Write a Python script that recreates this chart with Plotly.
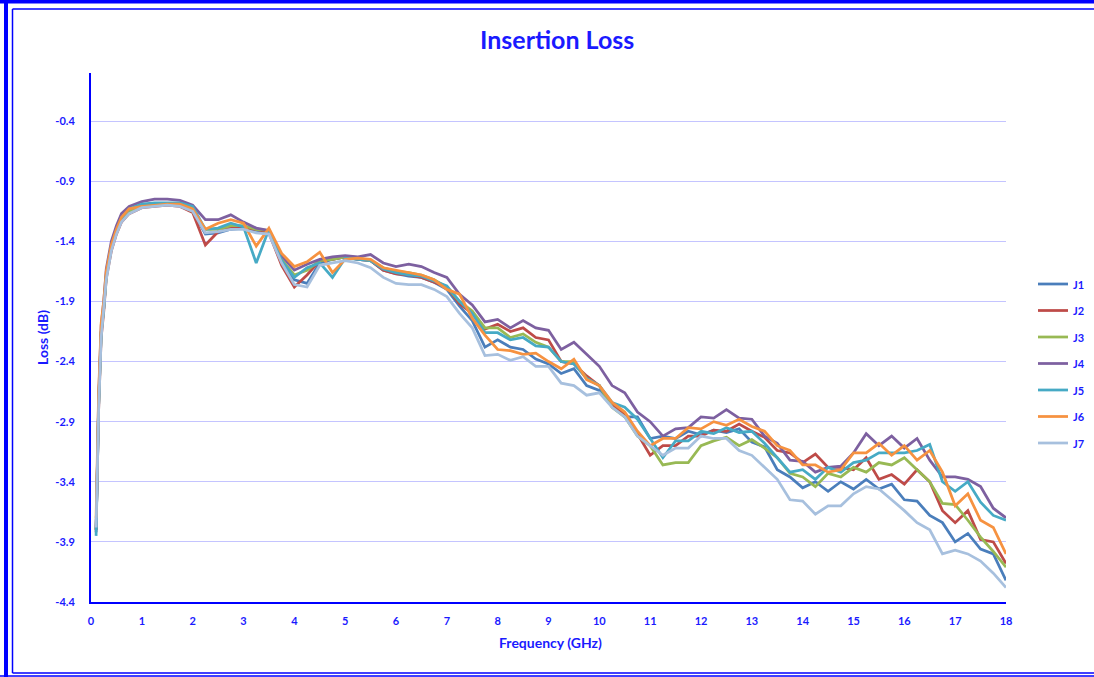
import plotly.graph_objects as go

# Frequency grid (GHz): dense near the low-frequency roll-up, then 0.25 GHz steps
FREQ_LOW = [0.1, 0.125, 0.15, 0.2, 0.25, 0.3, 0.4, 0.5, 0.6, 0.75]
FREQ_MAIN = [1.0 + 0.25 * i for i in range(69)]
FREQ = FREQ_LOW + FREQ_MAIN

# Low-frequency part, per channel (dB)
J1_LOW = [-3.80, -3.30, -2.76, -2.16, -1.96, -1.69, -1.46, -1.32, -1.22, -1.15]
J2_LOW = [-3.80, -3.32, -2.80, -2.20, -1.99, -1.71, -1.48, -1.34, -1.24, -1.17]
J3_LOW = [-3.80, -3.30, -2.76, -2.16, -1.96, -1.69, -1.46, -1.32, -1.22, -1.15]
J4_LOW = [-3.82, -3.26, -2.70, -2.10, -1.90, -1.63, -1.40, -1.27, -1.17, -1.11]
J5_LOW = [-3.85, -3.30, -2.76, -2.16, -1.96, -1.68, -1.45, -1.31, -1.21, -1.13]
J6_LOW = [-3.70, -3.18, -2.66, -2.08, -1.90, -1.65, -1.43, -1.30, -1.20, -1.13]
J7_LOW = [-3.78, -3.32, -2.80, -2.20, -1.99, -1.72, -1.48, -1.34, -1.24, -1.17]

# 1.0 ... 18.0 GHz, per channel (dB)
J1_MAIN = [-1.10, -1.09, -1.09, -1.10, -1.15, -1.34, -1.33, -1.30, -1.29, -1.31,
           -1.32, -1.57, -1.72, -1.75, -1.58, -1.55, -1.53, -1.55, -1.56, -1.64,
           -1.67, -1.69, -1.70, -1.74,
           -1.80, -1.94, -2.06, -2.28, -2.22, -2.28, -2.30, -2.38, -2.42, -2.50,
           -2.46, -2.60, -2.64, -2.76, -2.86, -2.86, -3.04, -3.02, -3.04, -2.98,
           -3.01, -2.97, -2.99, -2.96, -3.07, -3.11, -3.30, -3.36, -3.45, -3.40,
           -3.48, -3.40, -3.46, -3.38, -3.46, -3.42, -3.55, -3.56, -3.68, -3.74,
           -3.90, -3.83, -3.96, -4.00, -4.22]
J2_MAIN = [-1.12, -1.11, -1.10, -1.11, -1.16, -1.43, -1.32, -1.28, -1.29, -1.30,
           -1.33, -1.60, -1.78, -1.68, -1.56, -1.55, -1.53, -1.55, -1.56, -1.64,
           -1.67, -1.68, -1.70, -1.74,
           -1.78, -1.92, -2.00, -2.13, -2.09, -2.15, -2.12, -2.20, -2.22, -2.40,
           -2.42, -2.52, -2.60, -2.76, -2.84, -3.00, -3.18, -3.10, -3.10, -3.02,
           -3.02, -2.97, -2.98, -2.92, -2.98, -3.03, -3.14, -3.16, -3.24, -3.17,
           -3.28, -3.28, -3.30, -3.20, -3.38, -3.34, -3.42, -3.30, -3.40, -3.64,
           -3.74, -3.64, -3.88, -3.90, -4.08]
J3_MAIN = [-1.11, -1.10, -1.09, -1.10, -1.15, -1.30, -1.30, -1.27, -1.27, -1.30,
           -1.31, -1.55, -1.68, -1.64, -1.56, -1.55, -1.53, -1.54, -1.56, -1.62,
           -1.65, -1.66, -1.68, -1.72,
           -1.78, -1.90, -1.98, -2.12, -2.12, -2.20, -2.17, -2.24, -2.28, -2.40,
           -2.40, -2.54, -2.60, -2.78, -2.86, -3.02, -3.10, -3.26, -3.24, -3.24,
           -3.10, -3.06, -3.03, -3.10, -3.05, -3.12, -3.20, -3.33, -3.36, -3.44,
           -3.33, -3.36, -3.28, -3.32, -3.24, -3.26, -3.20, -3.30, -3.40, -3.58,
           -3.59, -3.72, -3.86, -3.98, -4.11]
J4_MAIN = [-1.07, -1.05, -1.05, -1.06, -1.10, -1.22, -1.22, -1.18, -1.24, -1.29,
           -1.31, -1.52, -1.64, -1.59, -1.55, -1.53, -1.52, -1.53, -1.51, -1.58,
           -1.61, -1.59, -1.61, -1.66,
           -1.70, -1.84, -1.93, -2.07, -2.05, -2.12, -2.06, -2.12, -2.14, -2.30,
           -2.24, -2.34, -2.44, -2.60, -2.66, -2.82, -2.90, -3.02, -2.96, -2.95,
           -2.86, -2.87, -2.80, -2.87, -2.88, -3.02, -3.08, -3.22, -3.23, -3.32,
           -3.28, -3.27, -3.16, -3.00, -3.10, -3.02, -3.12, -3.04, -3.22, -3.36,
           -3.36, -3.38, -3.44, -3.62, -3.70]
J5_MAIN = [-1.09, -1.08, -1.08, -1.08, -1.11, -1.30, -1.29, -1.25, -1.28, -1.58,
           -1.30, -1.56, -1.70, -1.62, -1.58, -1.70, -1.54, -1.55, -1.56, -1.63,
           -1.66, -1.68, -1.69, -1.73,
           -1.77, -1.90, -2.00, -2.16, -2.16, -2.22, -2.20, -2.27, -2.28, -2.40,
           -2.42, -2.54, -2.60, -2.74, -2.78, -2.88, -3.04, -3.20, -3.06, -3.06,
           -2.98, -3.00, -2.95, -2.99, -2.98, -3.08, -3.20, -3.32, -3.30, -3.38,
           -3.28, -3.32, -3.24, -3.22, -3.16, -3.16, -3.16, -3.14, -3.09, -3.40,
           -3.48, -3.40, -3.57, -3.68, -3.72]
J6_MAIN = [-1.11, -1.10, -1.09, -1.09, -1.13, -1.30, -1.25, -1.22, -1.25, -1.44,
           -1.29, -1.50, -1.61, -1.57, -1.49, -1.66, -1.55, -1.54, -1.55, -1.62,
           -1.64, -1.66, -1.68, -1.72,
           -1.80, -1.84, -2.04, -2.18, -2.30, -2.31, -2.34, -2.33, -2.40, -2.46,
           -2.38, -2.55, -2.60, -2.74, -2.82, -2.98, -3.10, -3.04, -3.04, -2.95,
           -2.96, -2.90, -2.93, -2.88, -2.94, -2.98, -3.10, -3.14, -3.26, -3.26,
           -3.32, -3.30, -3.16, -3.16, -3.08, -3.18, -3.10, -3.22, -3.14, -3.32,
           -3.60, -3.50, -3.72, -3.78, -4.00]
J7_MAIN = [-1.12, -1.11, -1.10, -1.11, -1.15, -1.33, -1.32, -1.30, -1.30, -1.33,
           -1.34, -1.58, -1.76, -1.78, -1.60, -1.58, -1.56, -1.58, -1.62, -1.70,
           -1.75, -1.76, -1.76, -1.80,
           -1.86, -2.00, -2.12, -2.35, -2.34, -2.39, -2.36, -2.44, -2.44, -2.58,
           -2.60, -2.68, -2.66, -2.78, -2.86, -3.02, -3.10, -3.18, -3.12, -3.12,
           -3.02, -3.04, -3.04, -3.14, -3.18, -3.28, -3.38, -3.55, -3.56, -3.67,
           -3.60, -3.60, -3.50, -3.44, -3.46, -3.55, -3.64, -3.74, -3.80, -4.00,
           -3.97, -4.00, -4.06, -4.16, -4.28]

NAMES = ["J1", "J2", "J3", "J4", "J5", "J6", "J7"]
SERIES = [J1_LOW + J1_MAIN, J2_LOW + J2_MAIN, J3_LOW + J3_MAIN, J4_LOW + J4_MAIN,
          J5_LOW + J5_MAIN, J6_LOW + J6_MAIN, J7_LOW + J7_MAIN]
COLORS = ["#4A7EBB", "#BE4B48", "#98B954", "#7D60A0", "#46AAC5", "#F69240", "#A7C0DE"]

Y_TICKS = [-0.4, -0.9, -1.4, -1.9, -2.4, -2.9, -3.4, -3.9, -4.4]
X_TICKS = list(range(0, 19))

BLUE = "#0000FF"
TEXT = "#1a1aff"
FONT = "Lato"

W, H = 1094, 677
L, R, T, B = 91, 88, 73, 75
PW, PH = W - L - R, H - T - B


def px(x):
    return (x - L) / PW


def py(y):
    return (H - B - y) / PH


fig = go.Figure()
for name, vals, col in zip(NAMES, SERIES, COLORS):
    fig.add_trace(go.Scatter(x=FREQ, y=vals, mode="lines", name=name,
                             line=dict(color=col, width=2.75), showlegend=False))

shapes = []
annotations = []

# legend entries
for k, (name, col) in enumerate(zip(NAMES, COLORS)):
    yy = 284 + k * 26.5
    shapes.append(dict(type="line", xref="paper", yref="paper",
                       x0=px(1038), x1=px(1068), y0=py(yy), y1=py(yy),
                       line=dict(color=col, width=2.75)))
    annotations.append(dict(xref="paper", yref="paper", x=px(1071), y=py(yy),
                            xanchor="left", yanchor="middle", showarrow=False,
                            text=name, font=dict(family=FONT, size=11, color=TEXT, weight="bold")))

# outer chart frame
frame = [
    (0, 1.5, W, 1.5, 4),        # top thick
    (6, 0, 6, H, 4),            # left thick
    (12.5, 9, W, 9, 1.5),       # top inner
    (12.5, 9, 12.5, 673, 1.5),  # left inner
    (12.5, 673, W, 673, 1.5),   # bottom inner
    (0, 676, W, 676, 1.5),      # bottom outer
]
for x0, y0, x1, y1, w in frame:
    shapes.append(dict(type="line", xref="paper", yref="paper",
                       x0=px(x0), x1=px(x1), y0=py(y0), y1=py(y1),
                       line=dict(color=BLUE, width=w)))

annotations.append(dict(xref="paper", yref="paper", x=px(557), y=py(39),
                        xanchor="center", yanchor="middle", showarrow=False,
                        text="Insertion Loss",
                        font=dict(family=FONT, size=25, color=TEXT, weight="bold")))
annotations.append(dict(xref="paper", yref="paper", x=px(550), y=py(642),
                        xanchor="center", yanchor="middle", showarrow=False,
                        text="Frequency (GHz)",
                        font=dict(family=FONT, size=14, color=TEXT, weight="bold")))
annotations.append(dict(xref="paper", yref="paper", x=px(42), y=py(338),
                        xanchor="center", yanchor="middle", showarrow=False,
                        text="Loss (dB)", textangle=-90,
                        font=dict(family=FONT, size=14, color=TEXT, weight="bold")))

fig.update_layout(
    width=W, height=H,
    margin=dict(l=L, r=R, t=T, b=B, pad=0),
    paper_bgcolor="white", plot_bgcolor="white",
    shapes=shapes, annotations=annotations,
    font=dict(family=FONT, size=11, color=TEXT, weight="bold"),
)
fig.update_xaxes(range=[0, 18], tickvals=X_TICKS, showgrid=False, zeroline=False,
                 showline=True, linecolor=BLUE, linewidth=2, ticks="",
                 ticklabelstandoff=8,
                 tickfont=dict(family=FONT, size=11, color=TEXT, weight="bold"))
fig.update_yaxes(range=[-4.4, 0.0], tickvals=Y_TICKS, ticktext=[f"{v:.1f}" for v in Y_TICKS],
                 showgrid=True, gridcolor="#c4c4ff", gridwidth=1, zeroline=False,
                 showline=True, linecolor=BLUE, linewidth=2, ticks="",
                 ticklabelstandoff=12,
                 tickfont=dict(family=FONT, size=11, color=TEXT, weight="bold"))

fig.write_html("out.html")
